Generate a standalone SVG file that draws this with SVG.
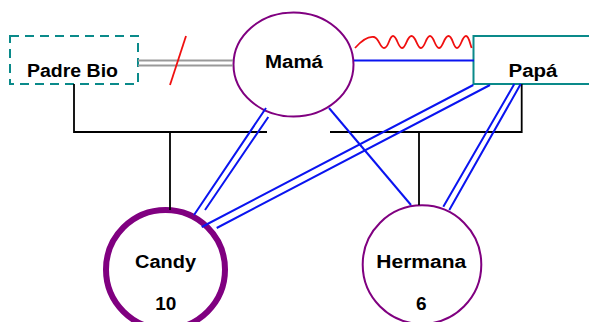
<svg xmlns="http://www.w3.org/2000/svg" width="589" height="322" viewBox="0 0 589 322">
<style>
.lbl{font-family:"Liberation Sans",Arial,sans-serif;font-weight:bold;font-size:18px;fill:#000;text-anchor:middle}
.num{font-size:19px}
.blue{stroke:#0a14f0;stroke-width:2;fill:none}
.blk{stroke:#000;stroke-width:1.8;fill:none}
.gray{stroke:#999;stroke-width:1.8;fill:none}
.red{stroke:#f01010;stroke-width:1.8;fill:none}
.teal{stroke:#0a8a8a;stroke-width:2;fill:#fff}
.purple{stroke:#800080;fill:#fff}
</style>
<rect width="589" height="322" fill="#fff"/>
<g id="padre-bio">
<rect class="teal" x="10" y="36" width="128" height="48" stroke-dasharray="9,6"/>
<text class="lbl" x="72.5" y="77" textLength="91" lengthAdjust="spacingAndGlyphs">Padre Bio</text>
</g>
<g id="mama">
<ellipse class="purple" cx="293.5" cy="64.5" rx="60" ry="52" stroke-width="2"/>
<text class="lbl" x="294" y="68" textLength="58" lengthAdjust="spacingAndGlyphs">Mamá</text>
</g>
<g id="papa">
<rect class="teal" x="473.5" y="36" width="120" height="48"/>
<text class="lbl" x="533" y="77" textLength="49" lengthAdjust="spacingAndGlyphs">Papá</text>
</g>
<g id="candy">
<circle class="purple" cx="165.5" cy="269.5" r="59.5" stroke-width="6"/>
<text class="lbl" x="165.5" y="268" textLength="61" lengthAdjust="spacingAndGlyphs">Candy</text>
<text class="lbl num" x="165.8" y="310">10</text>
</g>
<g id="hermana">
<circle class="purple" cx="422" cy="264.6" r="59.3" stroke-width="2"/>
<text class="lbl" x="421.3" y="268" textLength="90" lengthAdjust="spacingAndGlyphs">Hermana</text>
<text class="lbl num" x="421.3" y="310">6</text>
</g>
<g id="connectors">
<path class="gray" d="M138,60.5 H233 M138,65.5 H233"/>
<path class="red" d="M170,85 L186,36"/>
<path class="red" d="M355,48 C362,40 368,36 374,37 C379,38 380,48 384,48 C389,48 389,36 393,36 C397,36 398,48 402,48 C406,48 407,36 411.5,36 C416,36 417,48 421,48 C425,48 426,36 430,36 C434,36 435,48 439,48 C443,48 444,36 448.5,36 C453,36 453,48 457,48 C461,48 462,36 466,36 C469,36 470,44 471.7,48"/>
<path class="blue" d="M354,60.5 H474"/>
<path class="blk" d="M74,84 V132 H267 M170,132 V210"/>
<path class="blk" d="M521.7,84 V132 H330 M419,132 V205"/>
<path class="blue" d="M266,108 L194,215 M268.3,117 L205,210"/>
<path class="blue" d="M473.3,85 L201.7,227 M490,85 L216.7,228"/>
<path class="blue" d="M329,108 L411,205"/>
<path class="blue" d="M514.3,84 L443.3,206.7 M520.7,84 L449.3,210"/>
</g>
</svg>
